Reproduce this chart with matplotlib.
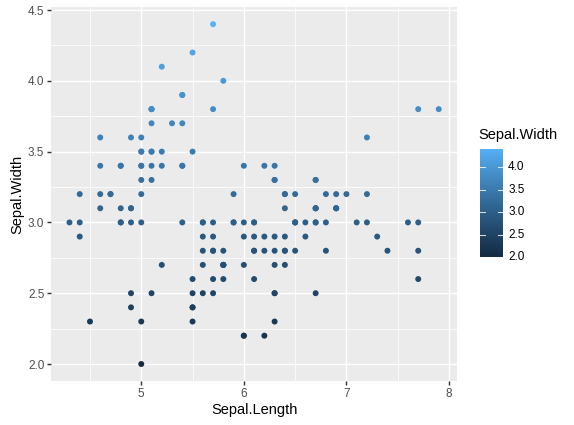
import numpy as np
import matplotlib
matplotlib.use("Agg")
import matplotlib.pyplot as plt
from matplotlib.colors import ListedColormap, Normalize

sepal_length = [
    5.1,4.9,4.7,4.6,5.0,5.4,4.6,5.0,4.4,4.9,5.4,4.8,4.8,4.3,5.8,5.7,5.4,5.1,5.7,5.1,5.4,5.1,4.6,5.1,4.8,
    5.0,5.0,5.2,5.2,4.7,4.8,5.4,5.2,5.5,4.9,5.0,5.5,4.9,4.4,5.1,5.0,4.5,4.4,5.0,5.1,4.8,5.1,4.6,5.3,5.0,
    7.0,6.4,6.9,5.5,6.5,5.7,6.3,4.9,6.6,5.2,5.0,5.9,6.0,6.1,5.6,6.7,5.6,5.8,6.2,5.6,5.9,6.1,6.3,6.1,6.4,
    6.6,6.8,6.7,6.0,5.7,5.5,5.5,5.8,6.0,5.4,6.0,6.7,6.3,5.6,5.5,5.5,6.1,5.8,5.0,5.6,5.7,5.7,6.2,5.1,5.7,
    6.3,5.8,7.1,6.3,6.5,7.6,4.9,7.3,6.7,7.2,6.5,6.4,6.8,5.7,5.8,6.4,6.5,7.7,7.7,6.0,6.9,5.6,7.7,6.3,6.7,
    7.2,6.2,6.1,6.4,7.2,7.4,7.9,6.4,6.3,6.1,7.7,6.3,6.4,6.0,6.9,6.7,6.9,5.8,6.8,6.7,6.7,6.3,6.5,6.2,5.9]
sepal_width = [
    3.5,3.0,3.2,3.1,3.6,3.9,3.4,3.4,2.9,3.1,3.7,3.4,3.0,3.0,4.0,4.4,3.9,3.5,3.8,3.8,3.4,3.7,3.6,3.3,3.4,
    3.0,3.4,3.5,3.4,3.2,3.1,3.4,4.1,4.2,3.1,3.2,3.5,3.6,3.0,3.4,3.5,2.3,3.2,3.5,3.8,3.0,3.8,3.2,3.7,3.3,
    3.2,3.2,3.1,2.3,2.8,2.8,3.3,2.4,2.9,2.7,2.0,3.0,2.2,2.9,2.9,3.1,3.0,2.7,2.2,2.5,3.2,2.8,2.5,2.8,2.9,
    3.0,2.8,3.0,2.9,2.6,2.4,2.4,2.7,2.7,3.0,3.4,3.1,2.3,3.0,2.5,2.6,3.0,2.6,2.3,2.7,3.0,2.9,2.9,2.5,2.8,
    3.3,2.7,3.0,2.9,3.0,3.0,2.5,2.9,2.5,3.6,3.2,2.7,3.0,2.5,2.8,3.2,3.0,3.8,2.6,2.2,3.2,2.8,2.8,2.7,3.3,
    3.2,2.8,3.0,2.8,3.0,2.8,3.8,2.8,2.8,2.6,3.0,3.4,3.1,3.0,3.1,3.1,3.1,2.7,3.2,3.3,3.0,2.5,3.0,3.4,3.0]

x_ticks = [5, 6, 7, 8]
y_ticks = [2.0, 2.5, 3.0, 3.5, 4.0, 4.5]
cb_ticks = [2.0, 2.5, 3.0, 3.5, 4.0]

# --- ggplot2 default gradient (#132B43 -> #56B1F7) interpolated in Lab space ---
def hex2rgb(h):
    h = h.lstrip('#')
    return np.array([int(h[i:i+2], 16) / 255 for i in (0, 2, 4)])

def srgb_to_lin(c):
    return np.where(c <= 0.04045, c / 12.92, ((c + 0.055) / 1.055) ** 2.4)

def lin_to_srgb(c):
    c = np.clip(c, 0, 1)
    return np.where(c <= 0.0031308, 12.92 * c, 1.055 * c ** (1 / 2.4) - 0.055)

M = np.array([[0.4124, 0.3576, 0.1805], [0.2126, 0.7152, 0.0722], [0.0193, 0.1192, 0.9505]])
Minv = np.linalg.inv(M)
WP = np.array([0.95047, 1.0, 1.08883])

def f(t):
    d = 6 / 29
    return np.where(t > d ** 3, np.cbrt(t), t / (3 * d * d) + 4 / 29)

def finv(t):
    d = 6 / 29
    return np.where(t > d, t ** 3, 3 * d * d * (t - 4 / 29))

def rgb2lab(rgb):
    xyz = M @ srgb_to_lin(rgb) / WP
    fx, fy, fz = f(xyz)
    return np.array([116 * fy - 16, 500 * (fx - fy), 200 * (fy - fz)])

def lab2rgb(lab):
    L, a, b = lab
    fy = (L + 16) / 116
    fx = fy + a / 500
    fz = fy - b / 200
    xyz = np.array([finv(fx), finv(fy), finv(fz)]) * WP
    return lin_to_srgb(Minv @ xyz)

lo = rgb2lab(hex2rgb('#132B43'))
hi = rgb2lab(hex2rgb('#56B1F7'))
cols = [lab2rgb(lo + (hi - lo) * t) for t in np.linspace(0, 1, 256)]
cmap = ListedColormap(cols)

vmin, vmax = min(sepal_width), max(sepal_width)
norm = Normalize(vmin, vmax)

plt.rcParams['font.family'] = ['Liberation Sans', 'DejaVu Sans']
DPI = 96
W, H = 574, 425
fig = plt.figure(figsize=(W / DPI, H / DPI), dpi=DPI)
ax = fig.add_axes([51 / W, (H - 381) / H, (457.2 - 51) / W, (381 - 7.2) / H])
ax.set_facecolor('#EBEBEB')
for s in ax.spines.values():
    s.set_visible(False)

xr = max(sepal_length) - min(sepal_length)
yr = vmax - vmin
ax.set_xlim(min(sepal_length) - 0.05 * xr, max(sepal_length) + 0.05 * xr)
ax.set_ylim(vmin - 0.05 * yr, vmax + 0.05 * yr)

ax.set_xticks(x_ticks)
ax.set_yticks(y_ticks)
ax.set_yticklabels([f"{v:.1f}" for v in y_ticks])
ax.set_xticks([4.5, 5.5, 6.5, 7.5], minor=True)
ax.set_yticks([2.25, 2.75, 3.25, 3.75, 4.25], minor=True)
ax.grid(which='major', color='white', linewidth=1.07)
ax.grid(which='minor', color='white', linewidth=0.53)
ax.set_axisbelow(True)
ax.tick_params(which='major', length=2.75, width=1.07, color='#333333',
               labelsize=8.8, labelcolor='#4D4D4D', pad=2.2)
ax.tick_params(which='minor', length=0)

ax.scatter(sepal_length, sepal_width, c=sepal_width, cmap=cmap, norm=norm,
           s=20, linewidths=0, zorder=3)

ax.set_xlabel('Sepal.Length', fontsize=11, labelpad=2.5)
ax.set_ylabel('Sepal.Width', fontsize=11, labelpad=2.5)

# colorbar legend
cb_bottom = 257.5
per = 45.3
cb_top = cb_bottom - (vmax - vmin) * per
cax = fig.add_axes([480 / W, (H - cb_bottom) / H, 23 / W, (cb_bottom - cb_top) / H])
grad = np.linspace(vmin, vmax, 300).reshape(-1, 1)
cax.imshow(grad, cmap=cmap, norm=norm, aspect='auto', origin='lower',
           extent=[0, 1, vmin, vmax])
cax.set_xlim(0, 1)
cax.set_ylim(vmin, vmax)
for s in cax.spines.values():
    s.set_visible(False)
cax.set_xticks([])
cax.set_yticks([])
for v in cb_ticks:
    cax.plot([0, 0.2], [v, v], color='white', lw=0.8, alpha=0.8)
    cax.plot([0.8, 1], [v, v], color='white', lw=0.8, alpha=0.8)
    cax.text(1.22, v, f"{v:.1f}", fontsize=8.8, color='black', va='center', ha='left',
             transform=cax.get_yaxis_transform())
fig.text(478 / W, (H - 135) / H, 'Sepal.Width', fontsize=11, va='center', ha='left')

fig.savefig('out.png', dpi=DPI)
